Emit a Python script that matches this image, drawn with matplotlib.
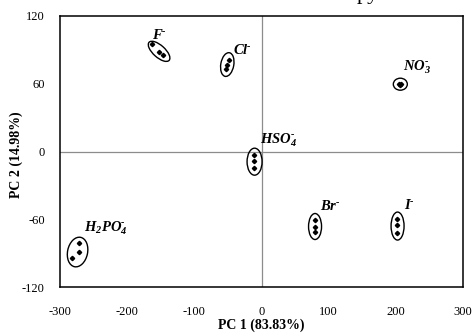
import matplotlib
matplotlib.use("Agg")
import matplotlib.pyplot as plt
from matplotlib.patches import Ellipse
from matplotlib.transforms import ScaledTranslation

plt.rcParams['font.family'] = ['Liberation Serif', 'DejaVu Serif']
plt.rcParams['axes.unicode_minus'] = False
plt.rcParams['mathtext.fontset'] = 'custom'
plt.rcParams['mathtext.rm'] = 'Liberation Serif'
plt.rcParams['mathtext.it'] = 'Liberation Serif:italic'
plt.rcParams['mathtext.bf'] = 'Liberation Serif:bold'
plt.rcParams['mathtext.bfit'] = 'Liberation Serif:italic:bold'

# PCA scores (three replicates per anion)
anions = ["F", "Cl", "NO3", "HSO4", "Br", "I", "H2PO4"]
pc1 = {
    "F":     [-163, -153, -147],
    "Cl":    [-49, -52, -53],
    "NO3":   [205, 207, 206],
    "HSO4":  [-11, -11, -11],
    "Br":    [80, 80, 80],
    "I":     [202, 202, 202],
    "H2PO4": [-272, -272, -282],
}
pc2 = {
    "F":     [95, 88, 85.5],
    "Cl":    [81, 77, 73.5],
    "NO3":   [60, 59.5, 59],
    "HSO4":  [-3, -8.5, -14.5],
    "Br":    [-61, -66.5, -71.5],
    "I":     [-60, -65.5, -72.5],
    "H2PO4": [-81, -89, -94],
}
hy = "\u2010"
labels = {
    "F":     r"$\mathbfit{F}^{\mathbfit{%s}}$" % hy,
    "Cl":    r"$\mathbfit{Cl}^{\mathbfit{%s}}$" % hy,
    "NO3":   r"$\mathbfit{NO}_{\mathbfit{3}}^{\mathbfit{%s}}$" % hy,
    "HSO4":  r"$\mathbfit{HSO}_{\mathbfit{4}}^{\mathbfit{%s}}$" % hy,
    "Br":    r"$\mathbfit{Br}^{\mathbfit{%s}}$" % hy,
    "I":     r"$\mathbfit{I}^{\mathbfit{%s}}$" % hy,
    "H2PO4": r"$\mathbfit{H}_{\mathbfit{2}}\mathbfit{PO}_{\mathbfit{4}}^{\mathbfit{%s}}$" % hy,
}
# label anchor (data), ellipse centre (data), ellipse size in pixels + angle
label_pos = {"F": (-163, 100), "Cl": (-42, 86), "NO3": (211, 72), "HSO4": (-2, 7),
             "Br": (87, -52), "I": (212, -51), "H2PO4": (-264, -71)}
ell_center = {"F": (-152.5, 88.7), "Cl": (-51, 77), "NO3": (206.5, 59.6), "HSO4": (-10.4, -9),
              "Br": (79.6, -66.4), "I": (202.4, -66), "H2PO4": (-273.8, -89)}
ell_size = {"F": (27, 12, -42), "Cl": (13, 24, -10), "NO3": (14, 12, 0), "HSO4": (15, 27, 0),
            "Br": (13, 26, 0), "I": (13, 28, 0), "H2PO4": (20, 30, -12)}

fig = plt.figure(figsize=(4.76, 3.33), dpi=100)
ax = fig.add_axes([0.126, 0.138, 0.847, 0.814])

ax.axhline(0, color="#8c8c8c", lw=0.9, zorder=1)
ax.axvline(0, color="#8c8c8c", lw=0.9, zorder=1)

for a in anions:
    ax.plot(pc1[a], pc2[a], linestyle="none", marker="D", markersize=2.2,
            color="black", zorder=3)
    w, h, ang = ell_size[a]
    cx, cy = ell_center[a]
    tr = fig.dpi_scale_trans + ScaledTranslation(cx, cy, ax.transData)
    ax.add_patch(Ellipse((0, 0), w / 100, h / 100, angle=ang, transform=tr,
                         fill=False, edgecolor="black", lw=1.0, zorder=2))
    lx, ly = label_pos[a]
    ax.text(lx, ly, labels[a], fontsize=10.5, ha="left", va="baseline")

ax.set_xlim(-300, 300)
ax.set_ylim(-120, 120)
ax.set_xticks(range(-300, 301, 100))
ax.set_yticks(range(-120, 121, 60))
ax.tick_params(length=0, labelsize=9, pad=11)
ax.tick_params(axis="x", pad=14)
for s in ax.spines.values():
    s.set_linewidth(1.1)

fig.text(16.7 / 476, 1 - 155 / 333, "PC 2 (14.98%)", rotation=90, ha="center",
         va="center", fontsize=10, fontweight="bold")
fig.text(261.5 / 476, 1 - 325 / 333, "PC 1 (83.83%)", ha="center", va="center",
         fontsize=10, fontweight="bold")
# clipped fragment of a heading above the plot
fig.text(357 / 476, 1 + 1 / 333, "py", ha="left", va="baseline", fontsize=16)

fig.savefig("out.png", dpi=100)
